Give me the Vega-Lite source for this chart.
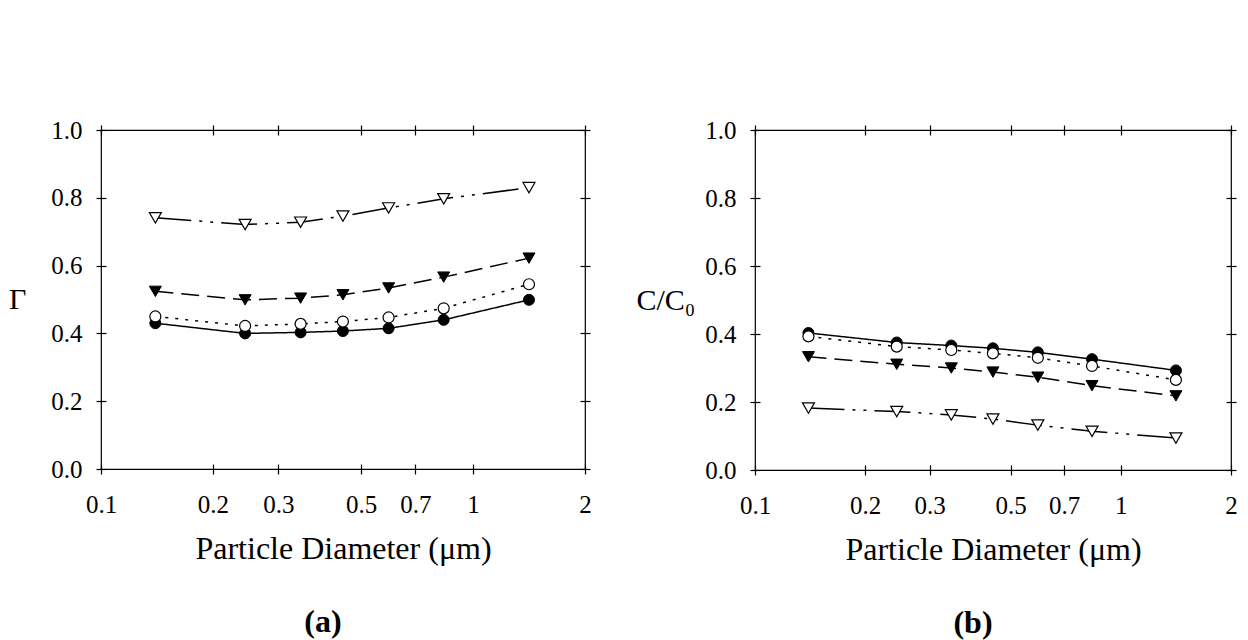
{
  "$schema": "https://vega.github.io/schema/vega-lite/v6.json",
  "background": "white",
  "padding": {"left": 7, "top": 117, "right": 0, "bottom": 0},
  "spacing": 43,
  "datasets": {
    "a": [
      {"series": "HVAC off", "d": 0.14, "v": 0.430}, {"series": "HVAC off", "d": 0.244, "v": 0.400}, {"series": "HVAC off", "d": 0.344, "v": 0.403}, {"series": "HVAC off", "d": 0.447, "v": 0.407}, {"series": "HVAC off", "d": 0.593, "v": 0.415}, {"series": "HVAC off", "d": 0.834, "v": 0.440}, {"series": "HVAC off", "d": 1.414, "v": 0.499},
      {"series": "Base Case", "d": 0.14, "v": 0.450}, {"series": "Base Case", "d": 0.244, "v": 0.422}, {"series": "Base Case", "d": 0.344, "v": 0.428}, {"series": "Base Case", "d": 0.447, "v": 0.435}, {"series": "Base Case", "d": 0.593, "v": 0.447}, {"series": "Base Case", "d": 0.834, "v": 0.474}, {"series": "Base Case", "d": 1.414, "v": 0.545},
      {"series": "High ηf", "d": 0.14, "v": 0.524}, {"series": "High ηf", "d": 0.244, "v": 0.499}, {"series": "High ηf", "d": 0.344, "v": 0.504}, {"series": "High ηf", "d": 0.447, "v": 0.514}, {"series": "High ηf", "d": 0.593, "v": 0.534}, {"series": "High ηf", "d": 0.834, "v": 0.566}, {"series": "High ηf", "d": 1.414, "v": 0.622},
      {"series": "High Qf, High ηf", "d": 0.14, "v": 0.741}, {"series": "High Qf, High ηf", "d": 0.244, "v": 0.721}, {"series": "High Qf, High ηf", "d": 0.344, "v": 0.728}, {"series": "High Qf, High ηf", "d": 0.447, "v": 0.746}, {"series": "High Qf, High ηf", "d": 0.593, "v": 0.770}, {"series": "High Qf, High ηf", "d": 0.834, "v": 0.797}, {"series": "High Qf, High ηf", "d": 1.414, "v": 0.830}
    ],
    "b": [
      {"series": "HVAC off", "d": 0.14, "v": 0.403}, {"series": "HVAC off", "d": 0.244, "v": 0.375}, {"series": "HVAC off", "d": 0.344, "v": 0.366}, {"series": "HVAC off", "d": 0.447, "v": 0.358}, {"series": "HVAC off", "d": 0.593, "v": 0.346}, {"series": "HVAC off", "d": 0.834, "v": 0.326}, {"series": "HVAC off", "d": 1.414, "v": 0.293},
      {"series": "Base Case", "d": 0.14, "v": 0.393}, {"series": "Base Case", "d": 0.244, "v": 0.363}, {"series": "Base Case", "d": 0.344, "v": 0.353}, {"series": "Base Case", "d": 0.447, "v": 0.343}, {"series": "Base Case", "d": 0.593, "v": 0.330}, {"series": "Base Case", "d": 0.834, "v": 0.306}, {"series": "Base Case", "d": 1.414, "v": 0.265},
      {"series": "High ηf", "d": 0.14, "v": 0.333}, {"series": "High ηf", "d": 0.244, "v": 0.311}, {"series": "High ηf", "d": 0.344, "v": 0.300}, {"series": "High ηf", "d": 0.447, "v": 0.288}, {"series": "High ηf", "d": 0.593, "v": 0.273}, {"series": "High ηf", "d": 0.834, "v": 0.248}, {"series": "High ηf", "d": 1.414, "v": 0.218},
      {"series": "High Qf, High ηf", "d": 0.14, "v": 0.182}, {"series": "High Qf, High ηf", "d": 0.244, "v": 0.172}, {"series": "High Qf, High ηf", "d": 0.344, "v": 0.162}, {"series": "High Qf, High ηf", "d": 0.447, "v": 0.150}, {"series": "High Qf, High ηf", "d": 0.593, "v": 0.132}, {"series": "High Qf, High ηf", "d": 0.834, "v": 0.114}, {"series": "High Qf, High ηf", "d": 1.414, "v": 0.094}
    ]
  },
  "hconcat": [
    {
      "width": 484,
      "height": 339,
      "data": {"name": "a"},
      "title": {"text": "(a)", "orient": "bottom", "fontSize": 32, "fontWeight": "bold", "font": "Liberation Serif", "color": "black", "dx": -20, "offset": 43},
      "layer": [
        {
          "mark": {"type": "line", "color": "black", "strokeWidth": 1.5},
          "encoding": {
            "x": {"field": "d", "type": "quantitative", "scale": {"type": "log", "domain": [0.1, 2]},
                  "axis": {"orient": "bottom", "values": [0.1, 0.2, 0.3, 0.5, 0.7, 1, 2], "format": "~g", "title": "Particle Diameter (μm)", "labelPadding": 18, "titlePadding": 16}},
            "y": {"field": "v", "type": "quantitative", "scale": {"domain": [0, 1]},
                  "axis": {"orient": "left", "values": [0, 0.2, 0.4, 0.6, 0.8, 1], "format": ".1f", "title": "Γ", "titleAngle": 0, "titleAlign": "right", "titleBaseline": "middle", "titleFontSize": 30, "labelPadding": 14, "titlePadding": 25}},
            "strokeDash": {"field": "series", "type": "nominal", "legend": null,
                           "scale": {"domain": ["HVAC off", "Base Case", "High ηf", "High Qf, High ηf"], "range": [[1, 0], [3, 7], [18, 8], [36, 8, 3, 8, 3, 8]]}}
          }
        },
        {
          "transform": [{"filter": "datum.series === 'HVAC off'"}],
          "mark": {"type": "point", "shape": "circle", "filled": true, "fill": "black", "stroke": "black", "strokeWidth": 1, "size": 121, "opacity": 1},
          "encoding": {
            "x": {"field": "d", "type": "quantitative", "scale": {"type": "log", "domain": [0.1, 2]},
                  "axis": {"orient": "top", "values": [0.1, 0.2, 0.3, 0.5, 0.7, 1, 2], "labels": false, "title": null}},
            "y": {"field": "v", "type": "quantitative", "scale": {"domain": [0, 1]},
                  "axis": {"orient": "right", "values": [0, 0.2, 0.4, 0.6, 0.8, 1], "labels": false, "title": null}}
          }
        },
        {
          "transform": [{"filter": "datum.series === 'Base Case'"}],
          "mark": {"type": "point", "shape": "circle", "filled": true, "fill": "white", "stroke": "black", "strokeWidth": 1.2, "size": 121, "opacity": 1},
          "encoding": {
            "x": {"field": "d", "type": "quantitative", "scale": {"type": "log", "domain": [0.1, 2]}, "axis": null},
            "y": {"field": "v", "type": "quantitative", "scale": {"domain": [0, 1]}, "axis": null}
          }
        },
        {
          "transform": [{"filter": "datum.series === 'High ηf'"}],
          "mark": {"type": "point", "shape": "triangle-down", "filled": true, "fill": "black", "stroke": "black", "strokeWidth": 1, "size": 144, "opacity": 1},
          "encoding": {
            "x": {"field": "d", "type": "quantitative", "scale": {"type": "log", "domain": [0.1, 2]}, "axis": null},
            "y": {"field": "v", "type": "quantitative", "scale": {"domain": [0, 1]}, "axis": null}
          }
        },
        {
          "transform": [{"filter": "datum.series === 'High Qf, High ηf'"}],
          "mark": {"type": "point", "shape": "triangle-down", "filled": true, "fill": "white", "stroke": "black", "strokeWidth": 1.2, "size": 144, "opacity": 1},
          "encoding": {
            "x": {"field": "d", "type": "quantitative", "scale": {"type": "log", "domain": [0.1, 2]}, "axis": null},
            "y": {"field": "v", "type": "quantitative", "scale": {"domain": [0, 1]}, "axis": null}
          }
        },
        {
          "mark": {"type": "point", "filled": true, "stroke": "black", "strokeWidth": 1.5, "opacity": 1, "clip": true},
          "encoding": {
            "x": {"datum": 1, "type": "quantitative", "scale": {"type": "log", "domain": [0.1, 2]}, "axis": null},
            "y": {"datum": 5, "type": "quantitative", "scale": {"domain": [0, 1]}, "axis": null},
            "shape": {"field": "series", "type": "nominal",
              "scale": {"domain": ["HVAC off", "Base Case", "High ηf", "High Qf, High ηf"],
                        "range": ["M-1,0L0.85,0M0.23,0A0.23,0.23,0,1,1,-0.23,0A0.23,0.23,0,1,1,0.23,0Z",
                                  "M-0.98,0L-0.86,0M-0.58,0L-0.46,0M0.4,0L0.52,0M0.76,0L0.88,0M0.23,0A0.23,0.23,0,1,1,-0.23,0A0.23,0.23,0,1,1,0.23,0Z",
                                  "M-1,0L0.85,0M-0.27,-0.22L0.27,-0.22L0,0.24Z",
                                  "M-1,0L-0.28,0M0.28,0L0.85,0M-0.27,-0.22L0.27,-0.22L0,0.24Z"]},
              "legend": {"orient": "none", "legendX": 228, "legendY": -122, "title": null, "padding": 11, "strokeColor": "black", "fillColor": "white", "symbolSize": 2304, "symbolStrokeWidth": 1.5, "symbolStrokeColor": "black", "symbolOffset": -9, "labelOffset": 19, "labelFont": "Liberation Serif", "labelFontSize": 27, "labelColor": "black", "labelLimit": 400, "clipHeight": 31, "rowPadding": 2}},
            "fill": {"field": "series", "type": "nominal",
              "scale": {"domain": ["HVAC off", "Base Case", "High ηf", "High Qf, High ηf"], "range": ["black", "white", "black", "white"]},
              "legend": {"orient": "none", "legendX": 228, "legendY": -122, "title": null, "padding": 11, "strokeColor": "black", "fillColor": "white", "symbolSize": 2304, "symbolStrokeWidth": 1.5, "symbolStrokeColor": "black", "symbolOffset": -9, "labelOffset": 19, "labelFont": "Liberation Serif", "labelFontSize": 27, "labelColor": "black", "labelLimit": 400, "clipHeight": 31, "rowPadding": 2}}
          }
        }
      ],
      "resolve": {"axis": {"x": "independent", "y": "independent"}}
    },
    {
      "width": 476,
      "height": 340,
      "data": {"name": "b"},
      "title": {"text": "(b)", "orient": "bottom", "fontSize": 32, "fontWeight": "bold", "font": "Liberation Serif", "color": "black", "dx": -20, "offset": 43},
      "layer": [
        {
          "mark": {"type": "line", "color": "black", "strokeWidth": 1.5},
          "encoding": {
            "x": {"field": "d", "type": "quantitative", "scale": {"type": "log", "domain": [0.1, 2]},
                  "axis": {"orient": "bottom", "values": [0.1, 0.2, 0.3, 0.5, 0.7, 1, 2], "format": "~g", "title": "Particle Diameter (μm)", "labelPadding": 18, "titlePadding": 16}},
            "y": {"field": "v", "type": "quantitative", "scale": {"domain": [0, 1]},
                  "axis": {"orient": "left", "values": [0, 0.2, 0.4, 0.6, 0.8, 1], "format": ".1f", "title": "C/C₀", "titleAngle": 0, "titleAlign": "right", "titleBaseline": "middle", "titleFontSize": 30, "labelPadding": 14, "titlePadding": 10}},
            "strokeDash": {"field": "series", "type": "nominal", "legend": null,
                           "scale": {"domain": ["HVAC off", "Base Case", "High ηf", "High Qf, High ηf"], "range": [[1, 0], [3, 7], [18, 8], [36, 8, 3, 8, 3, 8]]}}
          }
        },
        {
          "transform": [{"filter": "datum.series === 'HVAC off'"}],
          "mark": {"type": "point", "shape": "circle", "filled": true, "fill": "black", "stroke": "black", "strokeWidth": 1, "size": 121, "opacity": 1},
          "encoding": {
            "x": {"field": "d", "type": "quantitative", "scale": {"type": "log", "domain": [0.1, 2]},
                  "axis": {"orient": "top", "values": [0.1, 0.2, 0.3, 0.5, 0.7, 1, 2], "labels": false, "title": null}},
            "y": {"field": "v", "type": "quantitative", "scale": {"domain": [0, 1]},
                  "axis": {"orient": "right", "values": [0, 0.2, 0.4, 0.6, 0.8, 1], "labels": false, "title": null}}
          }
        },
        {
          "transform": [{"filter": "datum.series === 'Base Case'"}],
          "mark": {"type": "point", "shape": "circle", "filled": true, "fill": "white", "stroke": "black", "strokeWidth": 1.2, "size": 121, "opacity": 1},
          "encoding": {
            "x": {"field": "d", "type": "quantitative", "scale": {"type": "log", "domain": [0.1, 2]}, "axis": null},
            "y": {"field": "v", "type": "quantitative", "scale": {"domain": [0, 1]}, "axis": null}
          }
        },
        {
          "transform": [{"filter": "datum.series === 'High ηf'"}],
          "mark": {"type": "point", "shape": "triangle-down", "filled": true, "fill": "black", "stroke": "black", "strokeWidth": 1, "size": 144, "opacity": 1},
          "encoding": {
            "x": {"field": "d", "type": "quantitative", "scale": {"type": "log", "domain": [0.1, 2]}, "axis": null},
            "y": {"field": "v", "type": "quantitative", "scale": {"domain": [0, 1]}, "axis": null}
          }
        },
        {
          "transform": [{"filter": "datum.series === 'High Qf, High ηf'"}],
          "mark": {"type": "point", "shape": "triangle-down", "filled": true, "fill": "white", "stroke": "black", "strokeWidth": 1.2, "size": 144, "opacity": 1},
          "encoding": {
            "x": {"field": "d", "type": "quantitative", "scale": {"type": "log", "domain": [0.1, 2]}, "axis": null},
            "y": {"field": "v", "type": "quantitative", "scale": {"domain": [0, 1]}, "axis": null}
          }
        },
        {
          "mark": {"type": "point", "filled": true, "stroke": "black", "strokeWidth": 1.5, "opacity": 1, "clip": true},
          "encoding": {
            "x": {"datum": 1, "type": "quantitative", "scale": {"type": "log", "domain": [0.1, 2]}, "axis": null},
            "y": {"datum": 5, "type": "quantitative", "scale": {"domain": [0, 1]}, "axis": null},
            "shape": {"field": "series", "type": "nominal",
              "scale": {"domain": ["HVAC off", "Base Case", "High ηf", "High Qf, High ηf"],
                        "range": ["M-1,0L0.95,0M0.05,0A0.17,0.17,0,1,1,-0.29,0A0.17,0.17,0,1,1,0.05,0Z",
                                  "M-1,0L-0.9,0M-0.72,0L-0.62,0M0.42,0L0.52,0M0.74,0L0.84,0M0.05,0A0.17,0.17,0,1,1,-0.29,0A0.17,0.17,0,1,1,0.05,0Z",
                                  "M-0.94,0L-0.31,0M0.31,0L0.94,0M-0.3,-0.16L0.08,-0.16L-0.11,0.18Z",
                                  "M-0.94,0L-0.31,0M0.31,0L0.94,0M-0.3,-0.16L0.08,-0.16L-0.11,0.18Z"]},
              "legend": {"orient": "none", "legendX": 223, "legendY": -122, "title": null, "padding": 11, "strokeColor": "black", "fillColor": "white", "symbolSize": 4096, "symbolStrokeWidth": 1.5, "symbolStrokeColor": "black", "symbolOffset": -6, "labelOffset": 4, "labelFont": "Liberation Serif", "labelFontSize": 27, "labelColor": "black", "labelLimit": 400, "clipHeight": 30, "rowPadding": 2}},
            "fill": {"field": "series", "type": "nominal",
              "scale": {"domain": ["HVAC off", "Base Case", "High ηf", "High Qf, High ηf"], "range": ["black", "white", "black", "white"]},
              "legend": {"orient": "none", "legendX": 223, "legendY": -122, "title": null, "padding": 11, "strokeColor": "black", "fillColor": "white", "symbolSize": 4096, "symbolStrokeWidth": 1.5, "symbolStrokeColor": "black", "symbolOffset": -6, "labelOffset": 4, "labelFont": "Liberation Serif", "labelFontSize": 27, "labelColor": "black", "labelLimit": 400, "clipHeight": 30, "rowPadding": 2}}
          }
        }
      ],
      "resolve": {"axis": {"x": "independent", "y": "independent"}}
    }
  ],
  "config": {
    "font": "Liberation Serif",
    "view": {"stroke": "black", "strokeWidth": 1.2},
    "axis": {"domain": false, "grid": false, "tickColor": "black", "tickWidth": 1.2, "tickSize": 10, "offset": -5,
             "labelColor": "black", "titleColor": "black", "labelFont": "Liberation Serif", "titleFont": "Liberation Serif",
             "titleFontWeight": "normal", "labelFontSize": 25, "titleFontSize": 32, "labelFlush": false, "labelOverlap": false}
  }
}
